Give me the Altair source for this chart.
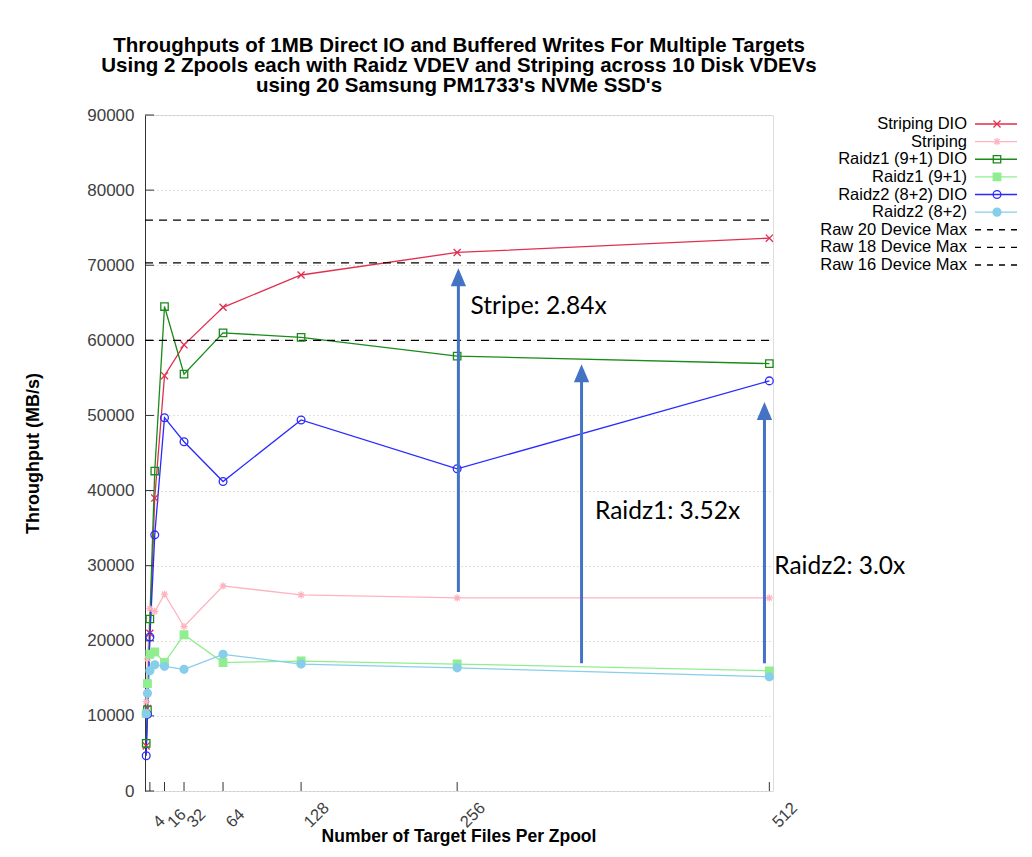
import altair as alt
import pandas as pd

# ---------------- data ----------------
x_files = [1, 2, 4, 8, 16, 32, 64, 128, 256, 512]
striping_dio = [6000, 11000, 21000, 39000, 55300, 59400, 64400, 68700, 71700, 73600]
striping = [11900, 17600, 24300, 23900, 26200, 21900, 27300, 26100, 25700, 25700]
raidz1_dio = [6350, 10800, 22900, 42600, 64500, 55500, 61000, 60400, 57900, 56900]
raidz1 = [10300, 14300, 18200, 18500, 17100, 20800, 17100, 17300, 16900, 16000]
raidz2_dio = [4700, 10200, 20500, 34100, 49700, 46500, 41200, 49400, 42900, 54600]
raidz2 = [10300, 13000, 16000, 16800, 16600, 16200, 18200, 16900, 16400, 15200]

series_names = ["Striping DIO", "Striping", "Raidz1 (9+1) DIO", "Raidz1 (9+1)",
                "Raidz2 (8+2) DIO", "Raidz2 (8+2)"]
raw_names = ["Raw 20 Device Max", "Raw 18 Device Max", "Raw 16 Device Max"]
raw_max = [76000, 70300, 60000]
raw_x_start = [0, 0, 0]
raw_x_end = [512, 512, 512]

x_ticks = [4, 16, 32, 64, 128, 256, 512]
x_tick_labels = ["4", "16", "32", "64", "128", "256", "512"]
y_ticks = [0, 10000, 20000, 30000, 40000, 50000, 60000, 70000, 80000, 90000]

arrow_x = [257, 358, 508]
arrow_from = [26500, 17000, 17000]
arrow_to = [69600, 56800, 51800]

ann_text = ["Stripe: 2.84x", "Raidz1: 3.52x", "Raidz2: 3.0x"]
ann_x = [267, 369, 516]
ann_y = [64400, 37200, 29800]

title_lines = ["Throughputs of 1MB Direct IO and Buffered Writes For Multiple Targets",
               "Using 2 Zpools each with Raidz VDEV and Striping across 10 Disk VDEVs",
               "using 20 Samsung PM1733's NVMe SSD's"]
x_title = "Number of Target Files Per Zpool"
y_title = "Throughput (MB/s)"

# ---------------- tables ----------------
rows = []
for name, vals in zip(series_names, [striping_dio, striping, raidz1_dio, raidz1, raidz2_dio, raidz2]):
    for xv, v in zip(x_files, vals):
        rows.append({"series": name, "files": xv, "mbps": v})
df = pd.DataFrame(rows)

raw_df = pd.DataFrame({"series": raw_names, "mbps": raw_max, "x0": raw_x_start, "x1": raw_x_end})
arrow_df = pd.DataFrame({"files": arrow_x, "y0": arrow_from, "y1": arrow_to})
ann_df = pd.DataFrame({"files": ann_x, "mbps": ann_y, "text": ann_text})
xt_df = pd.DataFrame({"t": x_ticks, "label": x_tick_labels})
yt_df = pd.DataFrame({"t": y_ticks})
xtitle_df = pd.DataFrame({"text": [x_title]})
all_names = series_names + raw_names
legend_df = pd.DataFrame({"series": all_names})
legend_pts_df = pd.DataFrame({"series": series_names})

# ---------------- styles ----------------
FONT = "Liberation Sans"
X_PATH = "M-1,-1L1,1M-1,1L1,-1"
STAR_PATH = "M-1,0L1,0M0,-1L0,1M-0.72,-0.72L0.72,0.72M-0.72,0.72L0.72,-0.72"
HEAD_PATH = "M0,-1L-0.85,1L0.85,1Z"
AXIS_C = "#333333"
PLOT_W, PLOT_H = 628, 676

color_range = ["#e0304f", "#ffb3c0", "#1a8a1a", "#90ee90", "#2a2aff", "#87ceeb",
               "#000000", "#000000", "#000000"]
fill_range = ["transparent", "transparent", "transparent", "#90ee90", "transparent", "#87ceeb",
              "transparent", "transparent", "transparent"]
shape_range = [X_PATH, STAR_PATH, "square", "square", "circle", "circle", "circle", "circle", "circle"]
size_range = [50, 70, 75, 100, 75, 120, 10, 10, 10]
dash_range = [[1, 0]] * 6 + [[6, 6]] * 3

color_scale = alt.Scale(domain=all_names, range=color_range)
fill_scale = alt.Scale(domain=all_names, range=fill_range)
shape_scale = alt.Scale(domain=all_names, range=shape_range)
size_scale = alt.Scale(domain=all_names, range=size_range)
dash_scale = alt.Scale(domain=all_names, range=dash_range)

xscale = alt.Scale(domain=[0, 515], nice=False, zero=False)
yscale = alt.Scale(domain=[0, 90000], nice=False, zero=False)
legend_y = alt.Scale(type="point", domain=all_names, range=[9, 150], padding=0)

x_main = alt.X("files:Q", scale=xscale, axis=alt.Axis(
    values=x_ticks, title=None, labels=False, ticks=False, tickSize=0,
    grid=True, gridDash=[1, 3], gridColor="#c0c0c0", domainColor=AXIS_C))
y_main = alt.Y("mbps:Q", scale=yscale, axis=alt.Axis(
    values=y_ticks, format="d", title=y_title, ticks=False, tickSize=0,
    labelPadding=11, labelFontSize=17, labelColor="#404040", labelFont=FONT,
    titleFont=FONT, titleFontSize=18, titleFontWeight="bold", titleColor="#000000",
    titlePadding=44, grid=True, gridDash=[1, 3], gridColor="#c0c0c0",
    domainColor=AXIS_C))


def x_noax(f):
    return alt.X(f, scale=xscale, axis=None)


def y_noax(f):
    return alt.Y(f, scale=yscale, axis=None)


lines = alt.Chart(df).mark_line(strokeWidth=1.3).encode(
    x=x_main, y=y_main,
    color=alt.Color("series:N", scale=color_scale, legend=None),
    detail="series:N",
)
points = alt.Chart(df).mark_point(opacity=1, strokeWidth=1.3).encode(
    x=x_noax("files:Q"), y=y_noax("mbps:Q"),
    shape=alt.Shape("series:N", scale=shape_scale, legend=None),
    stroke=alt.Stroke("series:N", scale=color_scale, legend=None),
    fill=alt.Fill("series:N", scale=fill_scale, legend=None),
    size=alt.Size("series:N", scale=size_scale, legend=None),
)
raw_rules = alt.Chart(raw_df).mark_rule(strokeDash=[8, 6], strokeWidth=1.2, color="#000000").encode(
    x=x_noax("x0:Q"), x2="x1:Q", y=y_noax("mbps:Q"))

# inward ticks (gnuplot style), drawn inside the plot frame
xticks_l = alt.Chart(xt_df).mark_rule(strokeWidth=1, color=AXIS_C).encode(
    x=x_noax("t:Q"), y=alt.value(PLOT_H), y2=alt.value(PLOT_H - 9))
yticks_l = alt.Chart(yt_df).mark_rule(strokeWidth=1, color=AXIS_C).encode(
    y=y_noax("t:Q"), x=alt.value(0), x2=alt.value(9))

# rotated x tick labels and x title
xlabels_l = alt.Chart(xt_df).mark_text(angle=315, align="left", baseline="middle", font=FONT,
                                       fontSize=16.5, color="#404040", xOffset=6, yOffset=34).encode(
    x=x_noax("t:Q"), y=alt.YDatum(0, scale=yscale, axis=None), text="label:N")
xtitle_l = alt.Chart(xtitle_df).mark_text(align="center", baseline="middle", font=FONT,
                                          fontSize=17.5, fontWeight="bold", color="#000000").encode(
    x=alt.value(PLOT_W / 2), y=alt.value(PLOT_H + 46), text="text:N")

arrow_shafts = alt.Chart(arrow_df).mark_rule(color="#4472c4", strokeWidth=3, y2Offset=12).encode(
    x=x_noax("files:Q"), y=y_noax("y0:Q"), y2="y1:Q")
arrow_heads = alt.Chart(arrow_df).mark_point(shape=HEAD_PATH, filled=True, color="#4472c4",
                                             opacity=1, size=324, yOffset=9).encode(
    x=x_noax("files:Q"), y=y_noax("y1:Q"))
ann = alt.Chart(ann_df).mark_text(align="left", baseline="middle", font="Lato", fontSize=24.5,
                                  color="#000000").encode(
    x=x_noax("files:Q"), y=y_noax("mbps:Q"), text="text:N")

# ---------------- legend (labels left of samples, like gnuplot) ----------------
leg_text = alt.Chart(legend_df).mark_text(align="right", baseline="middle", font=FONT,
                                          fontSize=16.5, color="#000000").encode(
    x=alt.value(822), y=alt.Y("series:N", scale=legend_y, axis=None), text="series:N")
leg_lines = alt.Chart(legend_df).mark_rule(strokeWidth=1.3).encode(
    x=alt.value(830), x2=alt.value(872),
    y=alt.Y("series:N", scale=legend_y, axis=None),
    color=alt.Color("series:N", scale=color_scale, legend=None),
    strokeDash=alt.StrokeDash("series:N", scale=dash_scale, legend=None))
leg_pts = alt.Chart(legend_pts_df).mark_point(opacity=1, strokeWidth=1.3).encode(
    x=alt.value(852), y=alt.Y("series:N", scale=legend_y, axis=None),
    shape=alt.Shape("series:N", scale=shape_scale, legend=None),
    stroke=alt.Stroke("series:N", scale=color_scale, legend=None),
    fill=alt.Fill("series:N", scale=fill_scale, legend=None),
    size=alt.Size("series:N", scale=size_scale, legend=None))

chart = alt.layer(
    lines, xticks_l, yticks_l, raw_rules, points, xlabels_l, xtitle_l,
    arrow_shafts, arrow_heads, ann, leg_text, leg_lines, leg_pts,
).resolve_scale(y="independent").properties(
    width=PLOT_W, height=PLOT_H,
    padding={"left": 137, "top": 107, "right": 245, "bottom": 56},
    autosize=alt.AutoSizeParams(type="none"),
    title=alt.TitleParams(text=title_lines, font=FONT, fontSize=20.5, fontWeight="bold",
                          color="#000000", anchor="middle", offset=10, lineHeight=20),
).configure_view(stroke=None).configure(background="#ffffff")

chart.save("out.html", embed_options={"renderer": "svg", "actions": False})
